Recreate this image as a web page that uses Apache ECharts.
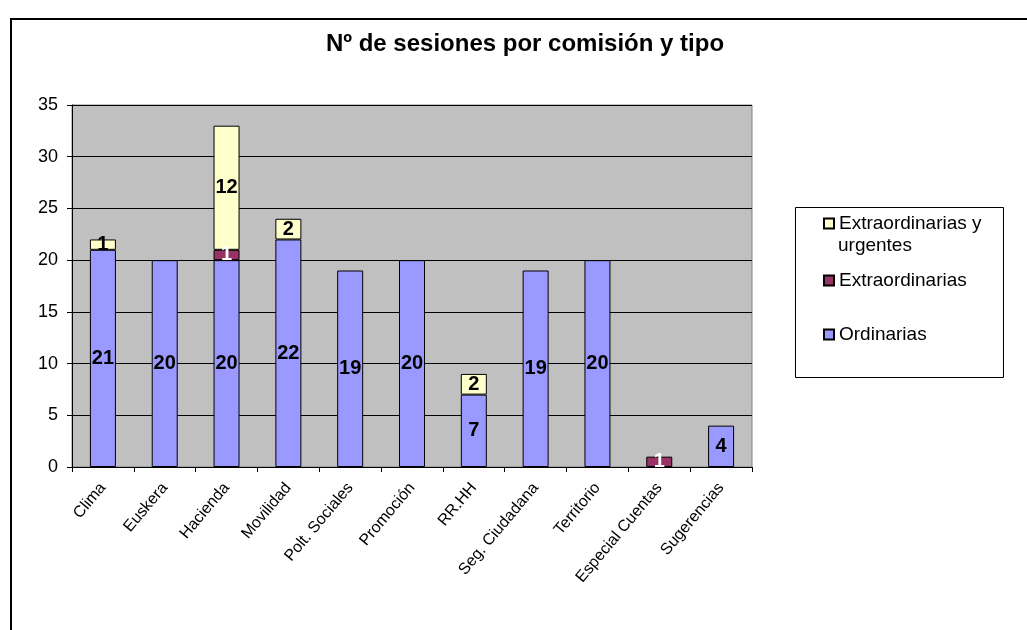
<!DOCTYPE html>
<html><head><meta charset="utf-8">
<script src="https://cdn.jsdelivr.net/npm/echarts@6/dist/echarts.min.js"></script>
<style>html,body{margin:0;padding:0;background:#fff}#c{width:1027px;height:630px}</style>
</head><body><div id="c"></div>
<script>
const categories = ['Clima','Euskera','Hacienda','Movilidad','Polt. Sociales','Promoción','RR.HH','Seg. Ciudadana','Territorio','Especial Cuentas','Sugerencias'];
const ordinarias = [21,20,20,22,19,20,7,19,20,'-',4];
const extraordinarias = ['-','-',1,'-','-','-','-','-','-',1,'-'];
const urgentes = [1,'-',12,2,'-','-',2,'-','-','-','-'];
const yTicks = {min:0, max:35, interval:5};

const chart = echarts.init(document.getElementById('c'), null, {renderer:'canvas'});
const font = 'Arial, "Liberation Sans", sans-serif';
const lbl = (color) => ({show:true, position:'inside', color:color, fontFamily:font, fontWeight:'bold', fontSize:20});
const legendBase = (name, top) => ({
  data:[name], left:818, top:top, orient:'vertical', itemWidth:10, itemHeight:10, icon:'rect', itemGap:5,
  textStyle:{fontFamily:font, fontSize:19, color:'#000', lineHeight:23}, selectedMode:false
});
chart.setOption({
  backgroundColor:'#fff',
  animation:false,
  title:{text:'Nº de sesiones por comisión y tipo', left:520, textAlign:'center', top:27,
    textStyle:{fontFamily:font, fontWeight:'bold', fontSize:24, color:'#000'}},
  graphic:[
    {type:'rect', shape:{x:11, y:19, width:1030, height:630}, style:{fill:'none', stroke:'#000', lineWidth:2}, silent:true},
    {type:'rect', shape:{x:795.5, y:207.5, width:208, height:170}, style:{fill:'#fff', stroke:'#000', lineWidth:1}, silent:true, z:-1},
    {type:'text', left:838, top:236, style:{text:'urgentes', fontFamily:font, fontSize:19, fill:'#000'}, silent:true}
  ],
  legend:[
    Object.assign(legendBase('Extraordinarias y urgentes', 207), {formatter:()=> 'Extraordinarias y'}),
    legendBase('Extraordinarias', 264),
    legendBase('Ordinarias', 318)
  ],
  grid:{left:72, top:105, width:680, height:362, show:true, backgroundColor:'#c0c0c0', borderColor:'#808080', borderWidth:1},
  xAxis:{type:'category', data:categories,
    axisLine:{lineStyle:{color:'#000', width:1}},
    axisTick:{show:true, length:5, lineStyle:{color:'#000'}},
    axisLabel:{rotate:50, fontFamily:font, fontSize:16, color:'#000', margin:18, interval:0}},
  yAxis:{type:'value', min:yTicks.min, max:yTicks.max, interval:yTicks.interval,
    axisLine:{show:true, lineStyle:{color:'#000'}},
    axisTick:{show:true, length:5, lineStyle:{color:'#000'}},
    splitLine:{lineStyle:{color:'#000', width:1}},
    axisLabel:{fontFamily:font, fontSize:18, color:'#000', margin:14}},
  series:[
    {name:'Ordinarias', type:'bar', stack:'s', data:ordinarias, barWidth:26,
      itemStyle:{color:'#9999ff', borderColor:'#000', borderWidth:1}, label:lbl('#000')},
    {name:'Extraordinarias', type:'bar', stack:'s', data:extraordinarias, barWidth:26,
      itemStyle:{color:'#993366', borderColor:'#000', borderWidth:1}, label:lbl('#fff')},
    {name:'Extraordinarias y urgentes', type:'bar', stack:'s', data:urgentes, barWidth:26,
      itemStyle:{color:'#ffffcc', borderColor:'#000', borderWidth:1}, label:lbl('#000')}
  ]
});
</script></body></html>
